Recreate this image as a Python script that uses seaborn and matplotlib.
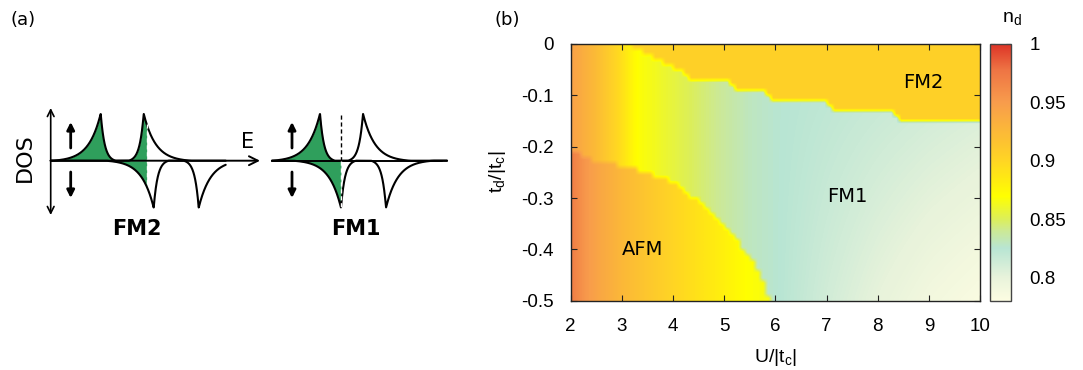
import numpy as np
import matplotlib
matplotlib.use('Agg')
import matplotlib.pyplot as plt
import seaborn as sns
from matplotlib.colors import LinearSegmentedColormap

# ---- data: phase diagram (b) ----
# n_d profiles along U
u_prof = [2, 2.5, 3, 3.3, 3.6, 4, 4.5, 5, 5.5, 6, 7, 8, 9, 10]
nd_fm1_top = [0.945, 0.922, 0.892, 0.869, 0.864, 0.856, 0.847, 0.838, 0.830, 0.826, 0.822, 0.818, 0.814, 0.810]
nd_fm1_bot = [0.945, 0.922, 0.892, 0.869, 0.864, 0.856, 0.847, 0.838, 0.830, 0.826, 0.812, 0.800, 0.790, 0.783]
afm_u = [2, 2.25, 2.5, 3, 3.5, 4, 4.5, 5, 5.5, 6]
nd_afm = [0.972, 0.955, 0.942, 0.925, 0.912, 0.900, 0.890, 0.880, 0.869, 0.865]
nd_fm2 = 0.904

# phase boundaries (U, t_d/|t_c|)
afm_bnd_u = [2, 2.2, 2.5, 2.9, 3.2, 3.6, 4.05, 4.4, 4.7, 5.0, 5.25, 5.5, 5.7, 5.83, 5.9]
afm_bnd_td = [-0.205, -0.215, -0.228, -0.235, -0.24, -0.254, -0.273, -0.3, -0.326, -0.356, -0.382, -0.415, -0.448, -0.48, -0.5]
fm2_bnd_u = [3.15, 3.45, 3.8, 4.1, 4.3, 5.05, 5.2, 5.8, 5.9, 7.0, 7.1, 8.3, 8.4, 10]
fm2_bnd_td = [0, -0.02, -0.036, -0.05, -0.067, -0.073, -0.09, -0.092, -0.109, -0.11, -0.129, -0.13, -0.148, -0.15]

phase_names = ['AFM', 'FM1', 'FM2']
phase_u = [3.4, 7.4, 8.9]
phase_td = [-0.4, -0.297, -0.075]

x_ticks = [2, 3, 4, 5, 6, 7, 8, 9, 10]
y_ticks = [0, -0.1, -0.2, -0.3, -0.4, -0.5]
y_ticklabels = ['0', '-0.1', '-0.2', '-0.3', '-0.4', '-0.5']
cb_ticks = [0.8, 0.85, 0.9, 0.95, 1.0]
cb_ticklabels = ['0.8', '0.85', '0.9', '0.95', '1']

# colour scale nodes
cb_vals = [0.78, 0.80, 0.825, 0.84, 0.85, 0.87, 0.90, 0.95, 0.978, 1.0]
cb_cols = ['#fdfde2', '#e8f3db', '#b8e5d3', '#cce996', '#dcef5a', '#ffff00',
           '#ffd524', '#f89c4c', '#ee7444', '#dd3427']

# ---- data: DOS sketches (a), energies relative to each sketch origin ----
fm2_up_peaks = [50, 93]
fm2_dn_peaks = [103, 148]
fm2_ef = 96
fm1_up_peaks = [48, 91]
fm1_dn_peaks = [69, 114]
fm1_ef = 69

sns.set_style('ticks')
plt.rcParams['font.family'] = ['Liberation Sans', 'DejaVu Sans']
plt.rcParams['mathtext.fontset'] = 'custom'
plt.rcParams['mathtext.rm'] = 'Liberation Sans'
plt.rcParams['axes.unicode_minus'] = False
plt.rcParams['text.color'] = 'black'
plt.rcParams['xtick.labelcolor'] = 'black'
plt.rcParams['ytick.labelcolor'] = 'black'

W, H = 1083, 370
fig = plt.figure(figsize=(W / 100, H / 100), dpi=100)

# ================= panel (a) =================
ax_a = fig.add_axes([0, 0, 487 / W, 1])
ax_a.set_xlim(0, 487)
ax_a.set_ylim(H, 0)
ax_a.axis('off')

green = '#2f9f5c'
base = 160.7
amp = 47.0


def band(e, p, bonding):
    # cusp-like band: long tail on outer side, steep edge on inner side
    dl, wl, dr, wr = (48, 12, 15, 4) if bonding else (15, 4, 47, 12)
    d = e - p
    y = np.zeros_like(e)
    m = (d <= 0) & (d >= -dl)
    y[m] = (np.exp(d[m] / wl) - np.exp(-dl / wl)) / (1 - np.exp(-dl / wl))
    m = (d > 0) & (d <= dr)
    y[m] = (np.exp(-d[m] / wr) - np.exp(-dr / wr)) / (1 - np.exp(-dr / wr))
    return y


def sketch(x0, up_peaks, dn_peaks, ef, ef_black_top):
    e = np.linspace(0, 175, 1400)
    up = band(e, up_peaks[0], True) + band(e, up_peaks[1], False)
    dn = band(e, dn_peaks[0], True) + band(e, dn_peaks[1], False)
    x = x0 + e
    yu = base - amp * up
    yd = base + amp * dn
    m = e <= ef
    ax_a.fill_between(x[m], base, yu[m], color=green, lw=0)
    ax_a.fill_between(x[m], base, yd[m], color=green, lw=0)
    ax_a.plot(x, yu, color='black', lw=1.5, solid_capstyle='round')
    ax_a.plot(x, yd, color='black', lw=1.5, solid_capstyle='round')
    xe = x0 + ef
    i = np.argmin(np.abs(e - ef))
    if ef_black_top:
        ax_a.plot([xe, xe], [base - amp * 0.97, base], color='black', lw=1.0, ls=(0, (3, 2)))
        ax_a.plot([xe, xe], [base, yd[i]], color='white', lw=1.0, ls=(0, (3, 2)))
    else:
        ax_a.plot([xe, xe], [yu[i], yd[i]], color='white', lw=1.0, ls=(0, (3, 2)))
    # spin arrows
    xs = x0 + 20
    ax_a.annotate('', xy=(xs, 122), xytext=(xs, 148),
                  arrowprops=dict(arrowstyle='-|>', lw=2.0, color='black',
                                  mutation_scale=11, shrinkA=0, shrinkB=0))
    ax_a.annotate('', xy=(xs, 198), xytext=(xs, 172),
                  arrowprops=dict(arrowstyle='-|>', lw=2.0, color='black',
                                  mutation_scale=11, shrinkA=0, shrinkB=0))


x_fm2, x_fm1 = 50.7, 272
# DOS axis
ax_a.annotate('', xy=(x_fm2, 108), xytext=(x_fm2, 215),
              arrowprops=dict(arrowstyle='<->', lw=1.2, color='black',
                              mutation_scale=12, shrinkA=0, shrinkB=0))
# energy axis
ax_a.annotate('', xy=(260, base), xytext=(x_fm2, base),
              arrowprops=dict(arrowstyle='->', lw=1.4, color='black',
                              mutation_scale=16, shrinkA=0, shrinkB=0))
ax_a.plot([x_fm1, 442], [base, base], color='black', lw=1.4)

sketch(x_fm2, fm2_up_peaks, fm2_dn_peaks, fm2_ef, False)
sketch(x_fm1, fm1_up_peaks, fm1_dn_peaks, fm1_ef, True)

ax_a.text(25, 158, 'DOS', rotation=90, ha='center', va='center', fontsize=16, family='DejaVu Sans')
ax_a.text(248, 142, 'E', ha='center', va='center', fontsize=15, family='DejaVu Sans')
ax_a.text(136.5, 229, 'FM2', ha='center', va='center', fontsize=15, fontweight='bold', family='DejaVu Sans')
ax_a.text(356, 229, 'FM1', ha='center', va='center', fontsize=15, fontweight='bold', family='DejaVu Sans')
ax_a.text(11, 20, '(a)', ha='left', va='center', fontsize=13, family='DejaVu Sans')

# ================= panel (b) =================
u_c = np.arange(2.05, 10.0, 0.1)
td_c = -np.arange(0.005, 0.5, 0.01)
UU, TT = np.meshgrid(u_c, td_c)

top = np.interp(UU, u_prof, nd_fm1_top)
bot = np.interp(UU, u_prof, nd_fm1_bot)
t = np.clip((TT + 0.1) / (-0.4), 0, 1)
nd = top + (bot - top) * t

afm_edge = np.interp(UU, afm_bnd_u, afm_bnd_td, right=np.nan)
is_afm = TT < afm_edge
nd[is_afm] = np.interp(UU, afm_u, nd_afm)[is_afm]
fm2_edge = np.interp(UU, fm2_bnd_u, fm2_bnd_td, left=np.nan)
is_fm2 = TT > fm2_edge
nd[is_fm2] = nd_fm2

pos = np.clip(np.round((np.array(cb_vals) - 0.78) / 0.22, 6), 0, 1)
cmap = LinearSegmentedColormap.from_list('nd', list(zip(pos, cb_cols)))

ax = fig.add_axes([570.7 / W, (H - 300.7) / H, 409.3 / W, 256.7 / H])
im = ax.imshow(nd, extent=[2, 10, -0.5, 0], origin='upper', aspect='auto',
               cmap=cmap, vmin=0.78, vmax=1.0, interpolation='bilinear')
ax.set_xlim(2, 10)
ax.set_ylim(-0.5, 0)
ax.set_xticks(x_ticks)
ax.set_xticklabels([str(v) for v in x_ticks])
ax.set_yticks(y_ticks)
ax.set_yticklabels(y_ticklabels)
ax.tick_params(direction='in', length=4.3, width=0.8, color='#222222',
               top=True, right=True, labelsize=13.5, pad=12.5)
for s in ax.spines.values():
    s.set_color('#222222')
    s.set_linewidth(1.0)

for name, u, td in zip(phase_names, phase_u, phase_td):
    ax.text(u, td, name, ha='center', va='center', fontsize=14,
            family='DejaVu Sans', color='black')

cax = fig.add_axes([990 / W, (H - 301) / H, 21 / W, 257 / H])
cb = fig.colorbar(im, cax=cax)
cb.set_ticks(cb_ticks)
cb.set_ticklabels(cb_ticklabels)
cax.tick_params(direction='in', length=3.5, width=0.8, color='#222222',
                left=True, right=True, labelsize=13.5, pad=13.5)
cb.outline.set_edgecolor('#444444')
cb.outline.set_linewidth(1.0)

fig.text(775 / W, 1 - 357 / H, 'U/|t$_{\\mathrm{c}}$|', ha='center', va='center', fontsize=14)
fig.text(497 / W, 1 - 172 / H, 't$_{\\mathrm{d}}$/|t$_{\\mathrm{c}}$|', ha='center', va='center',
         rotation=90, fontsize=14)
fig.text(1012 / W, 1 - 19 / H, 'n$_{\\mathrm{d}}$', ha='center', va='center', fontsize=14)
fig.text(495 / W, 1 - 20 / H, '(b)', ha='left', va='center', fontsize=13, family='DejaVu Sans')

fig.savefig('out.png', dpi=100)
